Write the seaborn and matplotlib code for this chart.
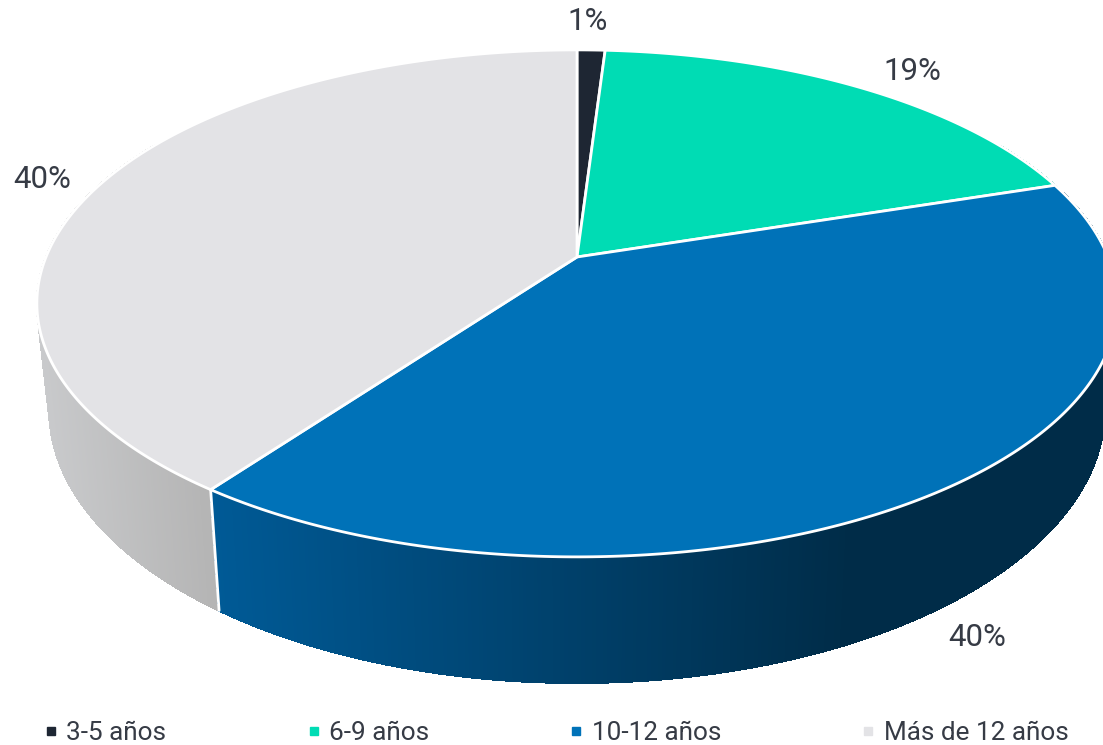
import numpy as np
import pandas as pd
import seaborn as sns
import matplotlib.pyplot as plt
from matplotlib.collections import PolyCollection
from matplotlib.patches import Polygon
from matplotlib.lines import Line2D
from matplotlib.colors import to_rgb

# Data
categories = ["3-5 años", "6-9 años", "10-12 años", "Más de 12 años"]
shares = [1, 19, 40, 40]
top_colors = ["#1e2633", "#00dcb4", "#0072b8", "#e3e3e6"]
side_left = ["#1e2633", "#00b894", "#005a96", "#c9cacc"]
side_right = ["#141a22", "#009a7c", "#002c48", "#b5b5b5"]

df = pd.DataFrame({"cat": categories, "share": shares})
df["end"] = df["share"].cumsum() / df["share"].sum() * 360
df["start"] = df["end"] - df["share"] / df["share"].sum() * 360

sns.set_theme(style="white")
plt.rcParams["font.family"] = ["Roboto", "DejaVu Sans"]
text_color = "#363b45"

# perspective of the 3D pie (pixel space)
CX, CY = 577, 257
A, B, K = 531, 245, 0.183
DEPTH, XS = 103, 0.977


def project(theta, bottom=False):
    t = np.radians(theta)
    den = 1 + K * np.cos(t)
    x = CX + A * np.sin(t) / den
    y = CY - B * np.cos(t) / den
    if bottom:
        x = CX + XS * (x - CX)
        y = y + DEPTH / den
    return x, y


fig = plt.figure(figsize=(11.03, 7.45), dpi=100)
ax = fig.add_axes([0, 0, 1, 1])
ax.set_xlim(0, 1103)
ax.set_ylim(745, 0)
ax.axis("off")

# side walls with horizontal gradient
quads, qcols, qdepth = [], [], []
for i, row in df.iterrows():
    lo, hi = max(row["start"], 60), min(row["end"], 300)
    if hi <= lo:
        continue
    th = np.linspace(lo, hi, int((hi - lo) * 3) + 2)
    xt, yt = project(th)
    xb, yb = project(th, bottom=True)
    xmin, xmax = (213, 850) if i == 2 else (37, 205)
    c0, c1 = np.array(to_rgb(side_left[i])), np.array(to_rgb(side_right[i]))
    for j in range(len(th) - 1):
        quads.append([(xt[j], yt[j]), (xt[j + 1], yt[j + 1]),
                      (xb[j + 1], yb[j + 1]), (xb[j], yb[j])])
        f = np.clip(((xt[j] + xt[j + 1]) / 2 - xmin) / (xmax - xmin), 0, 1)
        qcols.append(c0 + (c1 - c0) * f)
        qdepth.append(np.cos(np.radians(th[j])))
order = np.argsort(qdepth)[::-1]
pc = PolyCollection([quads[o] for o in order],
                    facecolors=[qcols[o] for o in order],
                    edgecolors=[qcols[o] for o in order], linewidths=0.8,
                    antialiased=False)
ax.add_collection(pc)

# white seam between grey and blue walls
sx0, sy0 = project(df.loc[2, "end"])
sx1, sy1 = project(df.loc[2, "end"], bottom=True)
ax.plot([sx0, sx1], [sy0, sy1], color="white", lw=2)

# top faces
for i, row in df.iterrows():
    th = np.linspace(row["start"], row["end"], max(int(row["share"] * 6), 4))
    xs, ys = project(th)
    pts = [(CX, CY)] + list(zip(xs, ys))
    ax.add_patch(Polygon(pts, closed=True, facecolor=top_colors[i],
                         edgecolor="white", lw=2, joinstyle="round"))

# percentage labels
label_pos = [(588, 22), (912, 72), (977, 638), (42, 180)]
for (lx, ly), v in zip(label_pos, df["share"]):
    ax.text(lx, ly, f"{v}%", ha="center", va="center", fontsize=22.5,
            color=text_color)

handles = [Line2D([], [], marker="s", linestyle="none", markersize=5.5,
                  markerfacecolor=c, markeredgecolor=c) for c in top_colors]
fig.legend(handles, categories, loc="center left", ncol=4,
           bbox_to_anchor=(0.0426, 0.0155), frameon=False, fontsize=18.8,
           handlelength=0.3, handletextpad=0.43, columnspacing=5.5,
           borderpad=0, borderaxespad=0, labelcolor=text_color)

fig.savefig("out.png", dpi=100)
